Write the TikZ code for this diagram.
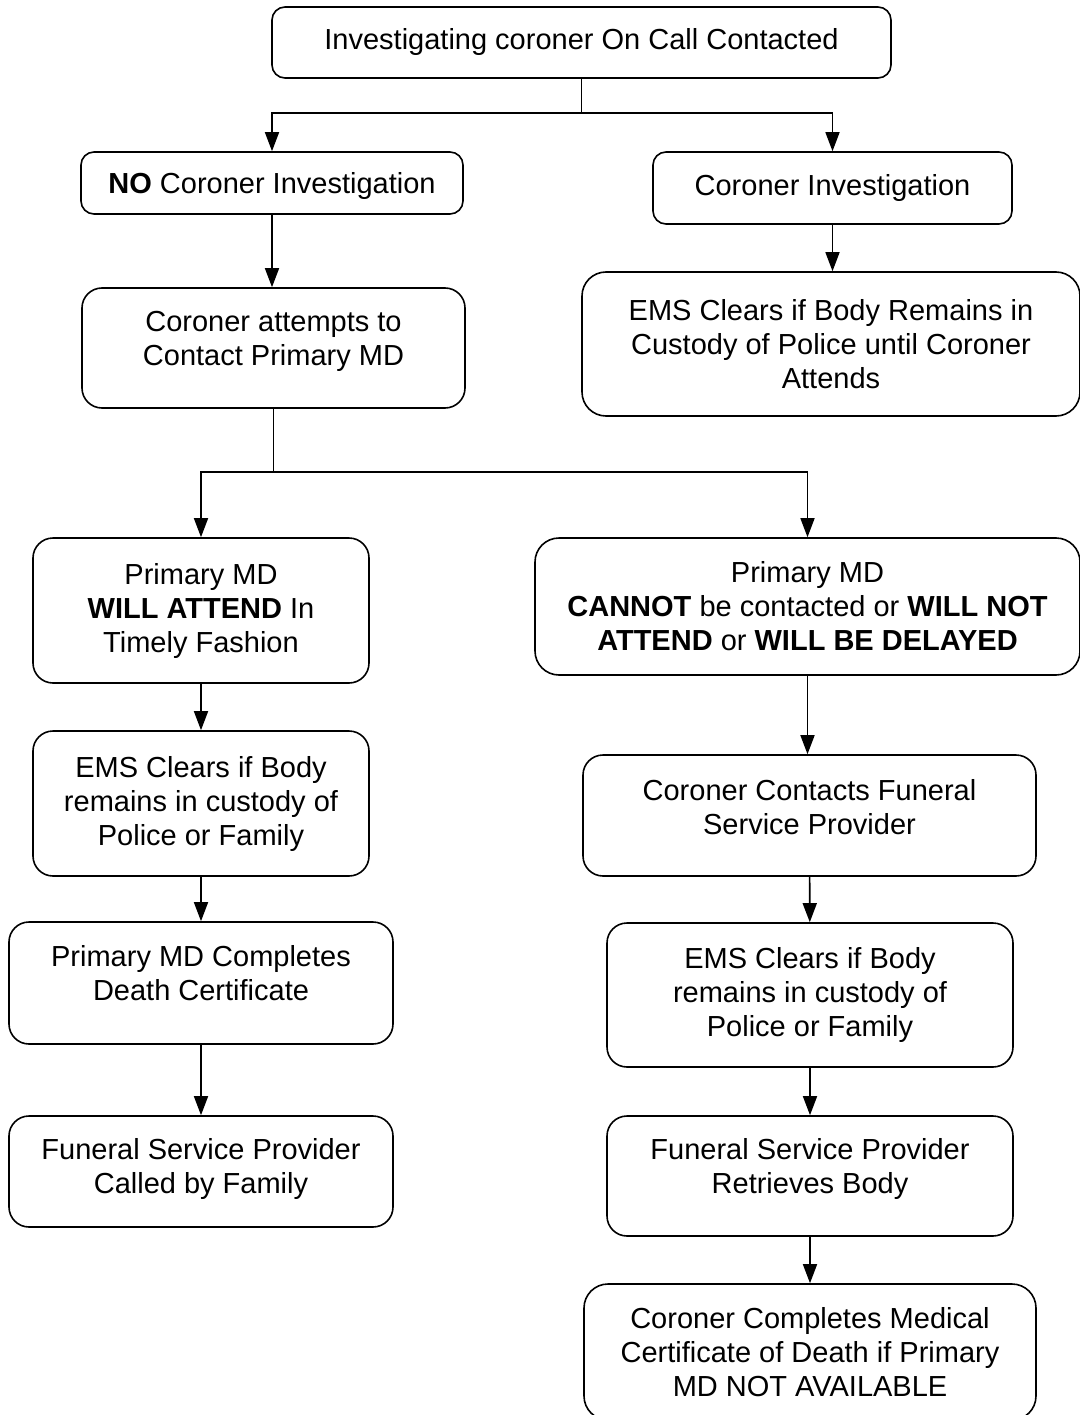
\documentclass[tikz,border=0pt]{standalone}
\usepackage{fontspec}
\setmainfont{Liberation Sans}
\usetikzlibrary{arrows.meta}

\begin{document}
\begin{tikzpicture}[x=1pt, y=-1pt, line width=1.6pt, >={Triangle[length=19pt, width=14pt]}]
	\tikzstyle{every node}=[align=center, inner sep=0pt, draw, rounded corners=20pt, font=\fontsize{29}{34}\selectfont]
	\useasboundingbox (0,0) rectangle (1079,1415);

	\node[minimum width=619pt, minimum height=71pt, rounded corners=13pt] (Call) at (581.5, 42.5) {Investigating coroner On Call Contacted};
	\node[minimum width=382pt, minimum height=62pt, rounded corners=13pt, text depth=0pt] (NoInv) at (272, 183) {\textbf{NO} Coroner Investigation};
	\node[minimum width=359pt, minimum height=72pt, rounded corners=13pt] (Inv) at (832.5, 188) {Coroner Investigation};
	\node[minimum width=383pt, minimum height=120pt, text depth=20pt] (Attempt) at (273.5, 348) {Coroner attempts to\\Contact Primary MD};
	\node[minimum width=498pt, minimum height=144pt, rounded corners=24pt] (PoliceWait) at (831, 344) {EMS Clears if Body Remains in\\Custody of Police until Coroner\\Attends};
	\node[minimum width=336pt, minimum height=145pt] (WillAttend) at (201, 610.5) {Primary MD\\\textbf{WILL ATTEND} In\\Timely Fashion};
	\node[minimum width=545pt, minimum height=137pt, rounded corners=24pt] (NotAttend) at (807.5, 606.5) {Primary MD\\\textbf{CANNOT} be contacted or \textbf{WILL NOT}\\\textbf{ATTEND} or \textbf{WILL BE DELAYED}};
	\node[minimum width=336pt, minimum height=145pt] (ClearsL) at (201, 803.5) {EMS Clears if Body\\remains in custody of\\Police or Family};
	\node[minimum width=453pt, minimum height=121pt, text depth=18pt] (CallFH) at (809.5, 815.5) {Coroner Contacts Funeral\\Service Provider};
	\node[minimum width=384pt, minimum height=122pt, text depth=20pt] (MDCert) at (201, 983) {Primary MD Completes\\Death Certificate};
	\node[minimum width=406pt, minimum height=144pt] (ClearsR) at (810, 995) {EMS Clears if Body\\remains in custody of\\Police or Family};
	\node[minimum width=384pt, minimum height=111pt, text depth=12pt] (FamilyFH) at (201, 1171.5) {Funeral Service Provider\\Called by Family};
	\node[minimum width=406pt, minimum height=120pt, text depth=20pt] (Retrieve) at (810, 1176) {Funeral Service Provider\\Retrieves Body};
	\node[minimum width=452pt, minimum height=136pt, rounded corners=24pt] (CorCert) at (810, 1352) {Coroner Completes Medical\\Certificate of Death if Primary\\MD NOT AVAILABLE};

	\coordinate (J1) at (581.5, 113);
	\coordinate (J2) at (273.5, 472);

	\draw (Call) -- (J1);
	\draw[->] (J1) -| (NoInv);
	\draw[->] (J1) -| (Inv);
	\draw[->] (NoInv) -- (Attempt.north -| NoInv.south);
	\draw[->] (Inv.south) -- (PoliceWait.north -| Inv.south);
	\draw (Attempt) -- (J2);
	\draw[->] (J2) -| (WillAttend);
	\draw[->] (J2) -| (NotAttend);
	\draw[->] (WillAttend) -- (ClearsL);
	\draw[->] (ClearsL) -- (MDCert);
	\draw[->] (MDCert) -- (FamilyFH);
	\draw[->] (NotAttend) -- (CallFH.north -| NotAttend.south);
	\draw[->] (CallFH) -- (ClearsR);
	\draw[->] (ClearsR) -- (Retrieve);
	\draw[->] (Retrieve) -- (CorCert);

\end{tikzpicture}
\end{document}
